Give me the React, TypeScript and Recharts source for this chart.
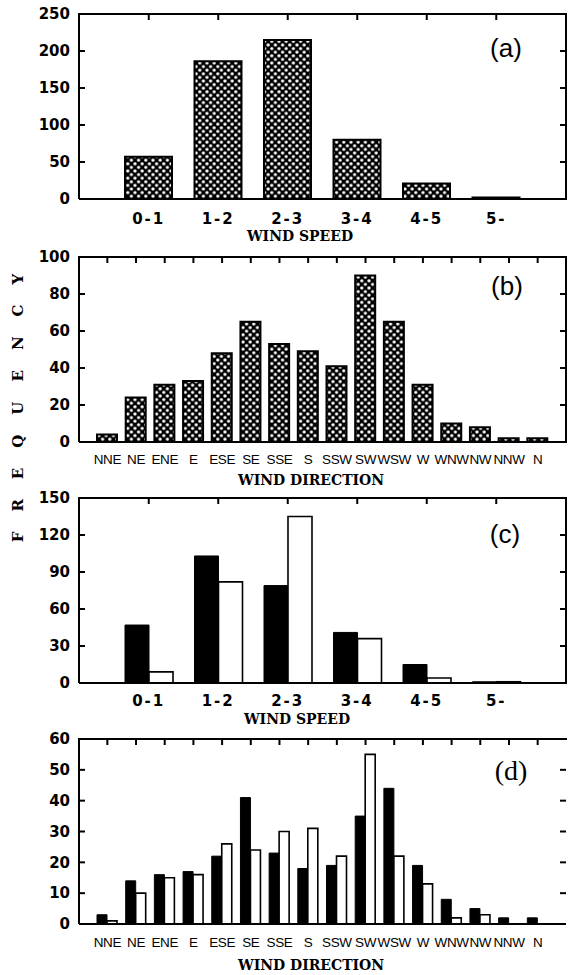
import React from 'react';
import { BarChart, Bar, XAxis, YAxis } from 'recharts';

const speedBins = ['0-1', '1-2', '2-3', '3-4', '4-5', '5-'];
const directions = ['NNE', 'NE', 'ENE', 'E', 'ESE', 'SE', 'SSE', 'S', 'SSW', 'SW', 'WSW', 'W', 'WNW', 'NW', 'NNW', 'N'];

// (a) all cases by wind speed
const speedFreq = [57, 186, 215, 80, 21, 2];
// (b) all cases by wind direction
const directionFreq = [4, 24, 31, 33, 48, 65, 53, 49, 41, 90, 65, 31, 10, 8, 2, 2];
// (c) solid / open groups by wind speed
const speedSolid = [47, 103, 79, 41, 15, 1];
const speedOpen = [9, 82, 135, 36, 4, 1];
// (d) solid / open groups by wind direction
const directionSolid = [3, 14, 16, 17, 22, 41, 23, 18, 19, 35, 44, 19, 8, 5, 2, 2];
const directionOpen = [1, 10, 15, 16, 26, 24, 30, 31, 22, 55, 22, 13, 2, 3, 0, 0];

const ticksA = [0, 50, 100, 150, 200, 250];
const ticksB = [0, 20, 40, 60, 80, 100];
const ticksC = [0, 30, 60, 90, 120, 150];
const ticksD = [0, 10, 20, 30, 40, 50, 60];

const dataA = speedBins.map((name, i) => ({ name, total: speedFreq[i] }));
const dataB = directions.map((name, i) => ({ name, total: directionFreq[i] }));
const dataC = speedBins.map((name, i) => ({ name, solid: speedSolid[i], open: speedOpen[i] }));
const dataD = directions.map((name, i) => ({ name, solid: directionSolid[i], open: directionOpen[i] }));

const W = 572;
const H = 250;
const PLOT_TOP = 14;
const PLOT_BOTTOM = 199; // in chart coords
const LEFT = 79;
const RIGHT = 566;
const TICK = 6;
const frame = { stroke: '#000', strokeWidth: 2 };
const noLabel = () => <g />;

type TickStyle = { fontFamily: string; fontSize: number; fontWeight?: string; letterSpacing?: number };

const yStyle: TickStyle = { fontFamily: 'DejaVu Sans', fontWeight: 'bold', fontSize: 15 };
const speedStyle: TickStyle = { fontFamily: 'DejaVu Sans', fontWeight: 'bold', fontSize: 15, letterSpacing: 2 };
const dirStyle: TickStyle = { fontFamily: 'Liberation Sans', fontSize: 13.5, letterSpacing: -0.4 };

// category label below the frame + inward tick mark on the top frame
const makeCatTick = (s: TickStyle) => (p: any) => (
  <g>
    <line x1={p.payload.coordinate} x2={p.payload.coordinate} y1={PLOT_TOP} y2={PLOT_TOP + TICK} stroke="#000" strokeWidth={2} />
    <text x={p.x} y={p.y} dy="0.71em" textAnchor="middle" fill="#000" {...s}>
      {p.payload.value}
    </text>
  </g>
);

// value label left of the frame + inward tick marks on left and right frame
const makeValueTick = (s: TickStyle) => (p: any) => (
  <g>
    <line x1={LEFT} x2={LEFT + TICK} y1={p.payload.coordinate} y2={p.payload.coordinate} stroke="#000" strokeWidth={2} />
    <line x1={RIGHT} x2={RIGHT - TICK} y1={p.payload.coordinate} y2={p.payload.coordinate} stroke="#000" strokeWidth={2} />
    <text x={p.x} y={p.y} dy="0.355em" textAnchor="end" fill="#000" {...s}>
      {p.payload.value}
    </text>
  </g>
);

type BarDef = { key: string; fill: string; stroke: string; strokeWidth: number; size: number };

type PanelProps = {
  top: number;
  data: any[];
  bars: BarDef[];
  ticks: number[];
  pad: number;
  catStyle: TickStyle;
  catMargin: number;
  title: string;
  titleX: number;
  titleDy: number;
  patternId?: string;
  rightLine?: boolean;
};

const Panel = ({ top, data, bars, ticks, pad, catStyle, catMargin, title, titleX, titleDy, patternId, rightLine = true }: PanelProps) => {
  const max = ticks[ticks.length - 1];
  return (
    <>
      <div style={{ position: 'absolute', left: 0, top }}>
        <BarChart width={W} height={H} data={data} margin={{ top: PLOT_TOP, right: W - RIGHT, bottom: 0, left: 0 }} barGap={0}>
          {patternId && (
            <defs>
              <pattern id={patternId} width="7.2" height="7.2" patternUnits="userSpaceOnUse">
                <rect width="7.2" height="7.2" fill="#000" />
                <circle cx="1.8" cy="1.8" r="1.65" fill="#fff" />
                <circle cx="5.4" cy="5.4" r="1.65" fill="#fff" />
              </pattern>
            </defs>
          )}
          <XAxis
            xAxisId="top"
            dataKey="name"
            orientation="top"
            height={0}
            padding={{ left: pad, right: pad }}
            interval={0}
            tick={noLabel}
            tickSize={0}
            tickLine={false}
            axisLine={frame}
          />
          <XAxis
            dataKey="name"
            height={H - PLOT_BOTTOM}
            padding={{ left: pad, right: pad }}
            interval={0}
            tickLine={false}
            tickSize={0}
            tickMargin={catMargin}
            axisLine={frame}
            tick={makeCatTick(catStyle)}
            label={{
              content: () => (
                <text
                  x={titleX}
                  y={PLOT_BOTTOM + titleDy + 5}
                  textAnchor="middle"
                  fontFamily="DejaVu Serif"
                  fontWeight="bold"
                  fontSize={14}
                  fill="#000"
                >
                  {title}
                </text>
              ),
            }}
          />
          <YAxis
            domain={[0, max]}
            ticks={ticks}
            interval={0}
            width={LEFT}
            tickSize={0}
            tickMargin={9}
            axisLine={frame}
            tickLine={false}
            tick={makeValueTick(yStyle)}
            allowDataOverflow
          />
          <YAxis
            yAxisId="r"
            orientation="right"
            width={0}
            domain={[0, max]}
            ticks={ticks}
            interval={0}
            tick={noLabel}
            tickSize={0}
            tickLine={false}
            axisLine={rightLine ? frame : false}
            allowDataOverflow
          />
          {bars.map((b) => (
            <Bar
              key={b.key}
              dataKey={b.key}
              fill={b.fill}
              stroke={b.stroke}
              strokeWidth={b.strokeWidth}
              barSize={b.size}
              isAnimationActive={false}
            />
          ))}
        </BarChart>
      </div>
      {/* top and right sides of the plot frame */}
      <div style={{ position: 'absolute', left: LEFT - 1, top: top + PLOT_TOP - 1, width: RIGHT - LEFT + 2, height: 2, background: '#000' }} />
      {rightLine && (
        <div style={{ position: 'absolute', left: RIGHT - 1, top: top + PLOT_TOP - 1, width: 2, height: PLOT_BOTTOM - PLOT_TOP + 2, background: '#000' }} />
      )}
    </>
  );
};

const Tag = ({ x, y, text, serif }: { x: number; y: number; text: string; serif?: boolean }) => (
  <div
    style={{
      position: 'absolute',
      left: x - 40,
      top: y - 18,
      width: 80,
      height: 36,
      lineHeight: '36px',
      textAlign: 'center',
      fontFamily: serif ? 'Liberation Serif' : 'Liberation Sans',
      fontSize: serif ? 28 : 26,
      color: '#000',
    }}
  >
    {text}
  </div>
);

export default function App() {
  return (
    <div style={{ position: 'absolute', left: 0, top: 0, width: W, height: 975, background: '#fff', overflow: 'hidden' }}>
      <Panel
        top={0}
        data={dataA}
        bars={[{ key: 'total', fill: 'url(#hatchA)', stroke: '#000', strokeWidth: 2, size: 47 }]}
        ticks={ticksA}
        pad={35}
        catStyle={speedStyle}
        catMargin={14}
        title="WIND SPEED"
        titleX={300}
        titleDy={37}
        patternId="hatchA"
      />
      <Panel
        top={243}
        data={dataB}
        bars={[{ key: 'total', fill: 'url(#hatchB)', stroke: '#000', strokeWidth: 2, size: 20 }]}
        ticks={ticksB}
        pad={14}
        catStyle={dirStyle}
        catMargin={12}
        title="WIND DIRECTION"
        titleX={311}
        titleDy={38}
        patternId="hatchB"
      />
      <Panel
        top={484}
        data={dataC}
        bars={[
          { key: 'solid', fill: '#000', stroke: '#000', strokeWidth: 1, size: 24 },
          { key: 'open', fill: '#fff', stroke: '#000', strokeWidth: 1.6, size: 24 },
        ]}
        ticks={ticksC}
        pad={35}
        catStyle={speedStyle}
        catMargin={12}
        title="WIND SPEED"
        titleX={297}
        titleDy={36}
      />
      <Panel
        top={725}
        data={dataD}
        bars={[
          { key: 'solid', fill: '#000', stroke: '#000', strokeWidth: 1, size: 10 },
          { key: 'open', fill: '#fff', stroke: '#000', strokeWidth: 1.6, size: 10 },
        ]}
        ticks={ticksD}
        pad={14}
        catStyle={dirStyle}
        catMargin={13}
        title="WIND DIRECTION"
        titleX={311}
        titleDy={41}
        rightLine={false}
      />
      <Tag x={506} y={48} text="(a)" />
      <Tag x={507} y={286} text="(b)" />
      <Tag x={505} y={534} text="(c)" />
      <Tag x={511} y={771} text="(d)" serif />
      <div
        style={{
          position: 'absolute',
          left: 18 - 160,
          top: 408 - 12,
          width: 320,
          height: 24,
          lineHeight: '24px',
          textAlign: 'center',
          transform: 'rotate(-90deg)',
          fontFamily: 'DejaVu Serif',
          fontWeight: 'bold',
          fontSize: 15,
          letterSpacing: 20,
          paddingLeft: 20,
          boxSizing: 'border-box',
          color: '#000',
        }}
      >
        FREQUENCY
      </div>
    </div>
  );
}
